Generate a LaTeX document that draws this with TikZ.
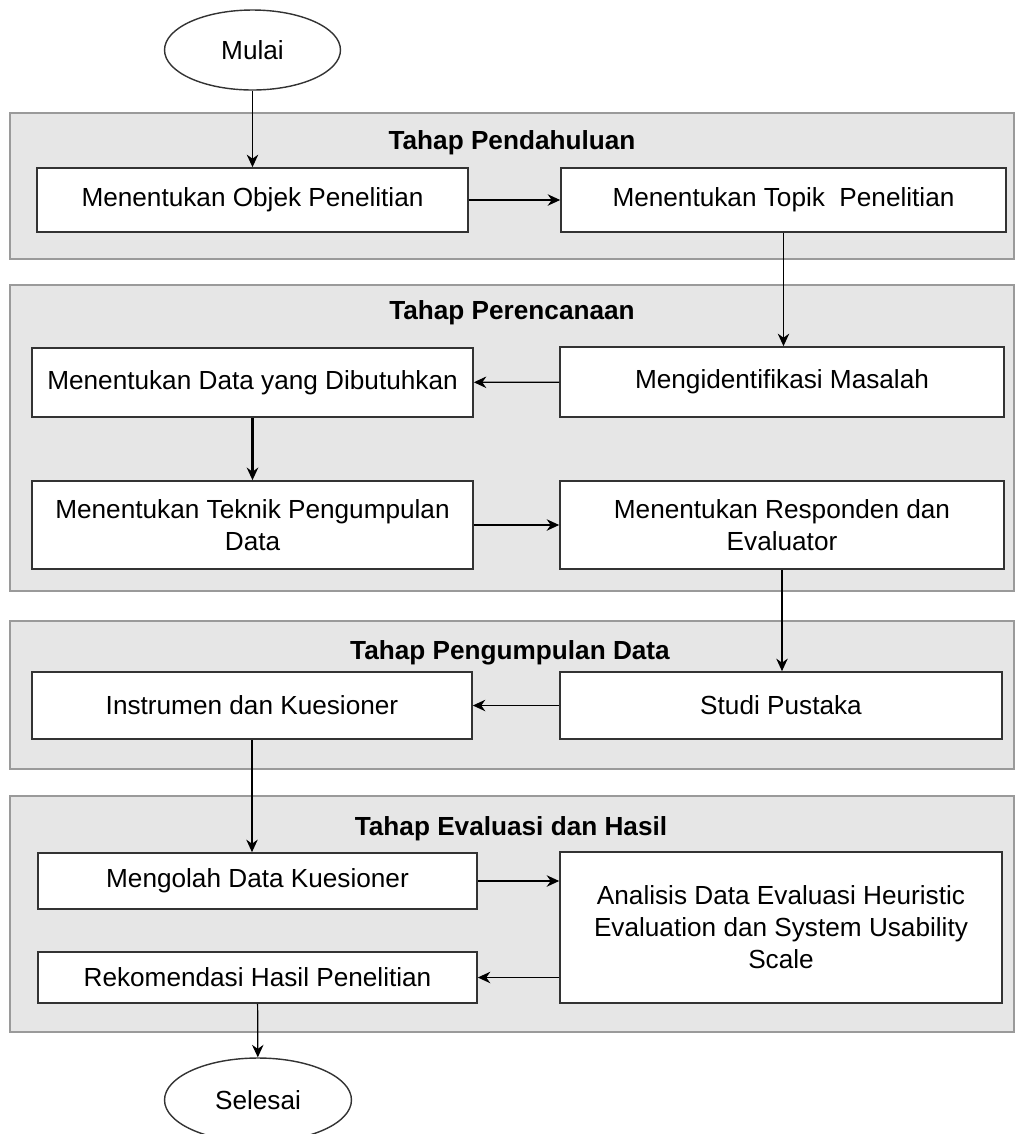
\documentclass[tikz,border=0pt]{standalone}
\usepackage{fontspec}
\setmainfont{Liberation Sans}
\usetikzlibrary{calc,shapes,positioning}
\usetikzlibrary{arrows.meta}
\tikzset{>={Stealth[length=2.5mm,width=2.3mm]}}
\definecolor{grpfill}{HTML}{E6E6E6}
\definecolor{grpline}{HTML}{9A9A9A}
\definecolor{boxline}{HTML}{333333}

\begin{document}
\begin{tikzpicture}[x=0.02cm,y=-0.02cm]
          \tikzstyle{enode} = [draw=boxline, line width=0.8pt, ellipse, fill=white, inner sep=0pt, font=\fontsize{14.9}{18}\selectfont]
          \tikzstyle{bnode} = [draw=boxline, line width=1pt, rectangle, fill=white, align=center, inner sep=2pt, font=\fontsize{14.9}{18.2}\selectfont]
          \tikzstyle{grp} = [fill=grpfill, draw=grpline, line width=1pt]
          \tikzstyle{tnode} = [font=\fontsize{14.9}{18}\selectfont\bfseries]
          \tikzstyle{edge} = [->, line width=0.7pt]

          \useasboundingbox (0,0) rectangle (1015,1134);

          % tahap
          \draw[grp] (10,113) rectangle (1014,259);
          \draw[grp] (10,285) rectangle (1014,591);
          \draw[grp] (10,621) rectangle (1014,769);
          \draw[grp] (10,796) rectangle (1014,1032);
          \node[tnode] (t1) at (512,143) {Tahap Pendahuluan};
          \node[tnode] (t2) at (512,313) {Tahap Perencanaan};
          \node[tnode] (t3) at (510,653) {Tahap Pengumpulan Data};
          \node[tnode] (t4) at (511,829) {Tahap Evaluasi dan Hasil};

          \node[enode, minimum width=3.52cm, minimum height=1.6cm] (mulai) at (252.5,50) {Mulai};
          \node[bnode, minimum width=8.62cm, minimum height=1.28cm] (objek) at (252.5,200) {Menentukan Objek Penelitian};
          \node[bnode, minimum width=8.9cm, minimum height=1.28cm] (topik) at (783.5,200) {Menentukan Topik~ Penelitian};
          \node[bnode, minimum width=8.88cm, minimum height=1.4cm] (masalah) at (782,382) {Mengidentifikasi Masalah};
          \node[bnode, minimum width=8.82cm, minimum height=1.38cm] (datab) at (252.5,382.5) {Menentukan Data yang Dibutuhkan};
          \node[bnode, minimum width=8.82cm, minimum height=1.76cm] (teknik) at (252.5,525) {Menentukan Teknik Pengumpulan\\Data};
          \node[bnode, minimum width=8.88cm, minimum height=1.76cm] (respon) at (782,525) {Menentukan Responden dan\\Evaluator};
          \node[bnode, minimum width=8.8cm, minimum height=1.34cm] (instr) at (252,705.5) {Instrumen dan Kuesioner};
          \node[bnode, minimum width=8.84cm, minimum height=1.34cm] (studi) at (781,705.5) {Studi Pustaka};
          \node[bnode, minimum width=8.78cm, minimum height=1.12cm] (mengolah) at (257.5,881) {Mengolah Data Kuesioner};
          \node[bnode, minimum width=8.84cm, minimum height=3.02cm] (analisis) at (781,927.5) {Analisis Data Evaluasi Heuristic\\Evaluation dan System Usability\\Scale};
          \node[bnode, minimum width=8.78cm, minimum height=1.02cm] (rekom) at (257.5,977.5) {Rekomendasi Hasil Penelitian};
          \node[enode, minimum width=3.74cm, minimum height=1.68cm] (selesai) at (258,1100) {Selesai};

          \draw[edge] (mulai) to (objek);
          \draw[edge] (objek) to (topik);
          \draw[edge] (topik.south) -- (topik.south |- masalah.north);
          \draw[edge] (masalah) to (datab);
          \draw[edge, line width=1.2pt] (datab) to (teknik);
          \draw[edge] (teknik) to (respon);
          \draw[edge] (respon.south) -- (respon.south |- studi.north);
          \draw[edge] (studi) to (instr);
          \draw[edge] (instr.south) -- (instr.south |- mengolah.north);
          \draw[edge] (mengolah.east) -- (mengolah.east -| analisis.west);
          \draw[edge] (analisis.west |- rekom.east) -- (rekom.east);
          \draw[edge] (rekom) to (selesai);
        \end{tikzpicture}
\end{document}
